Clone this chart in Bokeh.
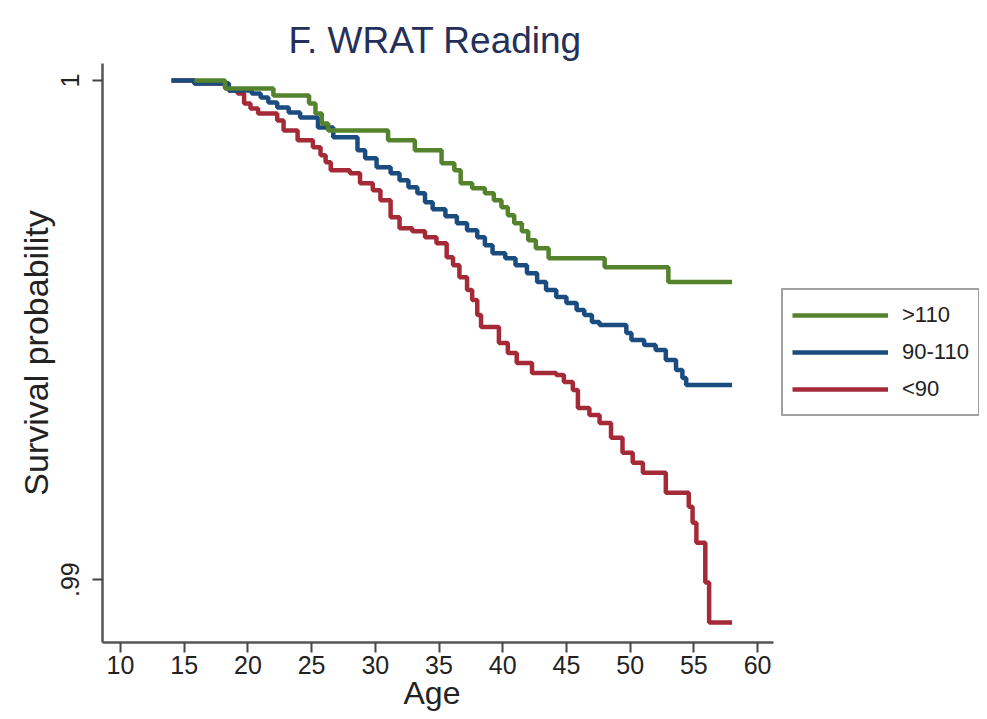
from bokeh.plotting import figure
from bokeh.models import Range1d, FixedTicker, Legend, LegendItem, Title
from bokeh.embed import file_html
from bokeh.resources import INLINE

title_text = "F. WRAT Reading"
x_label = "Age"
y_label = "Survival probability"
group_labels = [">110", "90-110", "<90"]
x_ticks = [10, 15, 20, 25, 30, 35, 40, 45, 50, 55, 60]
y_ticks = [0.99, 1.0]
y_tick_labels = [".99", "1"]

# >110
age_gt110 = [15.8, 18.2, 22.0, 24.8, 25.3, 25.8, 26.3, 31.0, 33.1, 35.2, 36.2, 36.7,
             37.6, 38.6, 39.3, 39.9, 40.4, 40.9, 41.5, 42.0, 42.6, 43.6, 48.0, 53.0, 58.0]
surv_gt110 = [1.0, 0.99984, 0.9997, 0.99954, 0.99934, 0.99914, 0.999, 0.9988, 0.9986,
              0.99834, 0.9982, 0.99794, 0.99784, 0.99774, 0.9976, 0.99746, 0.9973, 0.99714,
              0.99698, 0.9968, 0.99664, 0.99644, 0.99626, 0.99596, 0.99596]

# 90-110
age_mid = [14.0, 15.8, 18.5, 20.3, 21.0, 21.6, 22.3, 23.2, 24.1, 25.5, 26.7, 28.6, 29.2,
           30.1, 31.2, 31.9, 32.6, 33.3, 33.9, 34.5, 35.5, 36.4, 37.2, 38.0, 38.6, 39.2,
           40.2, 41.0, 41.9, 42.7, 43.4, 44.2, 45.0, 45.8, 46.4, 47.0, 47.6, 49.7, 50.1,
           51.1, 52.0, 52.8, 53.6, 54.1, 54.4, 58.0]
surv_mid = [1.0, 0.99994, 0.9998, 0.99974, 0.99966, 0.99956, 0.99946, 0.99936, 0.99926,
            0.99906, 0.99886, 0.9986, 0.99844, 0.99826, 0.99814, 0.998, 0.99786, 0.99774,
            0.99756, 0.99742, 0.99728, 0.99714, 0.997, 0.99686, 0.9967, 0.99654, 0.99644,
            0.9963, 0.99614, 0.99596, 0.9958, 0.99566, 0.99554, 0.9954, 0.9953, 0.99516,
            0.9951, 0.99494, 0.9948, 0.9947, 0.9946, 0.9944, 0.9942, 0.99404, 0.9939, 0.9939]

# <90
age_lt90 = [14.0, 15.8, 18.5, 19.2, 19.7, 20.2, 20.8, 22.3, 22.8, 23.9, 25.1, 25.7, 26.1,
            26.5, 28.0, 28.8, 29.8, 30.4, 31.2, 31.9, 32.9, 33.9, 34.8, 35.6, 36.1, 36.6,
            37.2, 37.6, 38.0, 38.3, 39.7, 40.4, 41.1, 42.3, 44.2, 44.8, 45.5, 45.9, 46.8,
            47.6, 48.5, 49.4, 50.2, 51.0, 52.8, 54.6, 54.9, 55.2, 55.9, 56.2, 58.0]
surv_lt90 = [1.0, 0.99994, 0.9998, 0.99974, 0.99954, 0.99944, 0.99934, 0.9992, 0.999,
             0.9988, 0.99866, 0.9985, 0.99836, 0.9982, 0.99814, 0.99794, 0.9978, 0.9976,
             0.99726, 0.99704, 0.99698, 0.99686, 0.99674, 0.99646, 0.9963, 0.99606, 0.9958,
             0.9956, 0.9953, 0.99506, 0.99474, 0.99454, 0.99434, 0.99414, 0.9941, 0.99396,
             0.9938, 0.99344, 0.9933, 0.99314, 0.99284, 0.99254, 0.99234, 0.99214, 0.99174,
             0.99146, 0.99114, 0.99074, 0.98994, 0.98914, 0.98914]

colors = ["#55822c", "#1b4c80", "#a52a38"]
FONT = "Liberation Sans"

# frame spans the whole width right of the y axis; the visible axis line is bounded
x_lo, x_hi = 8.587, 77.42
axis_end = 61.26

p = figure(width=979, height=711, output_backend="svg", toolbar_location=None,
           x_range=Range1d(x_lo, x_hi), y_range=Range1d(0.98874, 1.00034),
           min_border_left=102, min_border_right=0, min_border_top=63,
           min_border_bottom=69)
p.outline_line_color = None
p.xgrid.visible = False
p.ygrid.visible = False

p.title.text = title_text
p.title.align = "left"
p.title.offset = 186
p.title.text_font = FONT
p.title.text_font_style = "normal"
p.title.text_font_size = "37px"
p.title.text_color = "#25305a"
p.title.standoff = 5

r_lt = p.step(age_lt90, surv_lt90, mode="after", line_color=colors[2], line_width=4.5)
r_mid = p.step(age_mid, surv_mid, mode="after", line_color=colors[1], line_width=4.5)
r_gt = p.step(age_gt110, surv_gt110, mode="after", line_color=colors[0], line_width=4.5)

for ax in (p.xaxis[0], p.yaxis[0]):
    ax.axis_line_color = "#555555"
    ax.axis_line_width = 2.5
    ax.major_tick_line_color = "#444444"
    ax.major_tick_line_width = 2
    ax.major_tick_out = 10
    ax.major_tick_in = 0
    ax.minor_tick_line_color = None
    ax.major_label_text_font = FONT
    ax.major_label_text_color = "#222222"
    ax.major_label_text_font_size = "25px"
    ax.axis_label_text_font = FONT
    ax.axis_label_text_font_style = "normal"
    ax.axis_label_text_color = "#222222"

p.xaxis.ticker = FixedTicker(ticks=x_ticks)
p.xaxis.bounds = (x_lo, axis_end)
p.xaxis.major_label_standoff = 3

p.yaxis.ticker = FixedTicker(ticks=y_ticks)
p.yaxis.major_label_overrides = dict(zip(y_ticks, y_tick_labels))
p.yaxis.major_label_orientation = "vertical"
p.yaxis.axis_label = y_label
p.yaxis.axis_label_text_font_size = "34px"
p.yaxis.axis_label_standoff = 4
p.yaxis.major_label_standoff = 13

# x axis title, placed below the tick labels and centred under the visible axis
age_title = Title(text=x_label, align="left", offset=301, standoff=-8,
                  text_font=FONT, text_font_style="normal", text_font_size="32px",
                  text_color="#222222")
p.add_layout(age_title, "below")

legend = Legend(items=[LegendItem(label=group_labels[0], renderers=[r_gt]),
                       LegendItem(label=group_labels[1], renderers=[r_mid]),
                       LegendItem(label=group_labels[2], renderers=[r_lt])],
                location=(679, 226))
legend.label_text_font = FONT
legend.label_text_font_size = "22px"
legend.label_text_color = "#222222"
legend.glyph_width = 96
legend.glyph_height = 32
legend.label_height = 32
legend.spacing = 5
legend.padding = 9
legend.margin = 0
legend.label_standoff = 14
legend.border_line_color = "#444444"
legend.border_line_width = 2
legend.background_fill_color = "white"
p.add_layout(legend, "center")

open("out.html", "w").write(file_html(p, INLINE))
